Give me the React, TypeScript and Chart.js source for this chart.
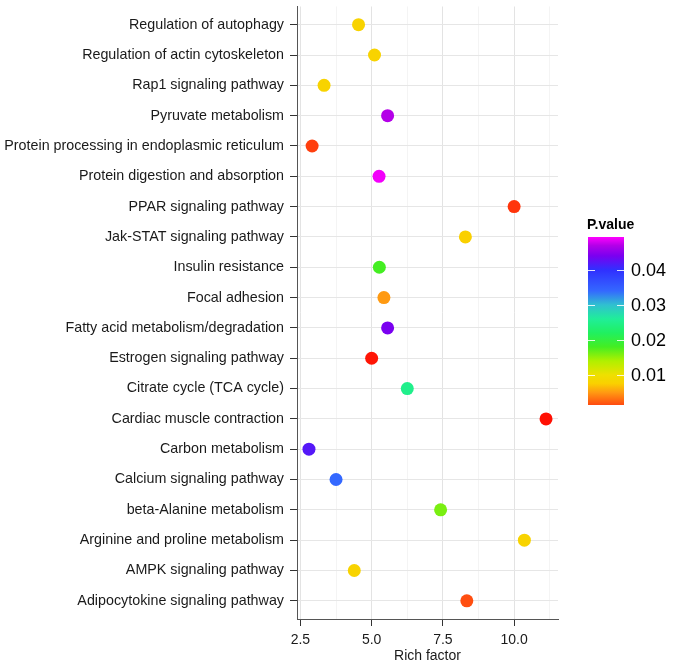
import React, { useEffect, useRef } from "react";
import { Chart, registerables } from "chart.js";

Chart.register(...registerables);

// Categories, bottom (index 0) to top
const categories: string[] = [
  "Adipocytokine signaling pathway",
  "AMPK signaling pathway",
  "Arginine and proline metabolism",
  "beta-Alanine metabolism",
  "Calcium signaling pathway",
  "Carbon metabolism",
  "Cardiac muscle contraction",
  "Citrate cycle (TCA cycle)",
  "Estrogen signaling pathway",
  "Fatty acid metabolism/degradation",
  "Focal adhesion",
  "Insulin resistance",
  "Jak-STAT signaling pathway",
  "PPAR signaling pathway",
  "Protein digestion and absorption",
  "Protein processing in endoplasmic reticulum",
  "Pyruvate metabolism",
  "Rap1 signaling pathway",
  "Regulation of actin cytoskeleton",
  "Regulation of autophagy",
];

const richFactor: number[] = [
  8.34, 4.39, 10.36, 7.42, 3.75, 2.8, 11.12, 6.25, 5.0, 5.56,
  5.43, 5.27, 8.29, 10.0, 5.26, 2.91, 5.56, 3.33, 5.1, 4.54,
];

const pValue: number[] = [
  0.0016, 0.008, 0.008, 0.016, 0.034, 0.042, 0.0003, 0.025, 0.0004, 0.044,
  0.005, 0.018, 0.0075, 0.001, 0.049, 0.0012, 0.047, 0.008, 0.008, 0.008,
];

const xTicks: number[] = [2.5, 3.75, 5.0, 6.25, 7.5, 8.75, 10.0, 11.25];
const xMajor: number[] = [2.5, 5.0, 7.5, 10.0];
const legendTicks: number[] = [0.01, 0.02, 0.03, 0.04];
const legendMin = 0.0014;
const legendMax = 0.0494;

// colour gradient stops (p-value -> colour)
const colorStops: [number, string][] = [
  [0.0, "#FF0000"],
  [0.0014, "#FF4A10"],
  [0.005, "#FF9A12"],
  [0.0075, "#FAD000"],
  [0.01, "#EEE000"],
  [0.014, "#B0F000"],
  [0.018, "#44EE22"],
  [0.022, "#20F060"],
  [0.026, "#20EE99"],
  [0.03, "#30C0D0"],
  [0.034, "#3468FF"],
  [0.04, "#3030FF"],
  [0.044, "#7A00F0"],
  [0.047, "#B400E8"],
  [0.0494, "#FF00FF"],
];

const FONT = "'Liberation Sans', Arial, Helvetica, sans-serif";

function hexToRgb(h: string): number[] {
  const v = parseInt(h.slice(1), 16);
  return [(v >> 16) & 255, (v >> 8) & 255, v & 255];
}

function colorFor(p: number): string {
  if (p <= colorStops[0][0]) return colorStops[0][1];
  for (let i = 1; i < colorStops.length; i++) {
    const [p1, c1] = colorStops[i];
    const [p0, c0] = colorStops[i - 1];
    if (p <= p1) {
      const t = (p - p0) / (p1 - p0);
      const a = hexToRgb(c0);
      const b = hexToRgb(c1);
      const r = a.map((v, k) => Math.round(v + (b[k] - v) * t));
      return `rgb(${r[0]},${r[1]},${r[2]})`;
    }
  }
  return colorStops[colorStops.length - 1][1];
}

const legendPlugin = {
  id: "pvalueLegend",
  afterDraw(chart: any) {
    const ctx = chart.ctx as CanvasRenderingContext2D;
    const barX = 588;
    const barW = 36;
    const barTop = 237;
    const barBottom = 405;
    const h = barBottom - barTop;
    const yOf = (p: number) => barBottom - ((p - legendMin) / (legendMax - legendMin)) * h;
    ctx.save();
    ctx.fillStyle = "#000";
    ctx.font = `bold 14px ${FONT}`;
    ctx.textAlign = "left";
    ctx.textBaseline = "alphabetic";
    ctx.fillText("P.value", 587, 229);

    const grad = ctx.createLinearGradient(0, barBottom, 0, barTop);
    colorStops.forEach(([p, c]) => {
      if (p >= legendMin && p <= legendMax) {
        grad.addColorStop((p - legendMin) / (legendMax - legendMin), c);
      }
    });
    ctx.fillStyle = grad;
    ctx.fillRect(barX, barTop, barW, h);

    ctx.strokeStyle = "rgba(255,255,255,0.85)";
    ctx.lineWidth = 1;
    ctx.font = `18px ${FONT}`;
    ctx.fillStyle = "#000";
    ctx.textBaseline = "middle";
    legendTicks.forEach((p) => {
      const y = Math.round(yOf(p)) + 0.5;
      ctx.beginPath();
      ctx.moveTo(barX, y);
      ctx.lineTo(barX + 7, y);
      ctx.moveTo(barX + barW - 7, y);
      ctx.lineTo(barX + barW, y);
      ctx.stroke();
      ctx.fillText(p.toFixed(2), 631, y + 1);
    });
    ctx.restore();
  },
};

export default function App() {
  const ref = useRef<HTMLCanvasElement>(null);

  useEffect(() => {
    document.body.style.margin = "0";
    const canvas = ref.current;
    if (!canvas) return;
    const points = categories.map((_, i) => ({ x: richFactor[i], y: i }));
    const chart = new Chart(canvas, {
      type: "scatter",
      data: {
        datasets: [
          {
            data: points,
            pointRadius: 6.5,
            pointHoverRadius: 6.5,
            pointBorderWidth: 0,
            pointBackgroundColor: pValue.map(colorFor),
            pointBorderColor: pValue.map(colorFor),
          },
        ],
      },
      options: {
        responsive: false,
        animation: false,
        events: [],
        layout: { padding: { left: 0, right: 117, top: 4, bottom: 0 } },
        plugins: {
          legend: { display: false },
          tooltip: { enabled: false },
        },
        scales: {
          x: {
            type: "linear",
            min: 2.38,
            max: 11.54,
            afterBuildTicks: (s: any) => {
              s.ticks = xTicks.map((v) => ({ value: v }));
            },
            afterFit: (s: any) => {
              s.height = 46;
              s.paddingLeft = 0;
              s.paddingRight = 0;
            },
            ticks: {
              autoSkip: false,
              maxRotation: 0,
              padding: 6,
              color: "#1a1a1a",
              font: { family: FONT, size: 14 },
              callback: (v: any) => (xMajor.includes(Number(v)) ? Number(v).toFixed(1) : ""),
            },
            grid: {
              color: (c: any) => (c.tick && xMajor.includes(c.tick.value) ? "#E3E3E3" : "#EFEFEF"),
              lineWidth: (c: any) => (c.tick && xMajor.includes(c.tick.value) ? 1 : 0.7),
              tickColor: (c: any) => (c.tick && xMajor.includes(c.tick.value) ? "#333" : "rgba(0,0,0,0)"),
              tickLength: 7,
              drawTicks: true,
            },
            border: { display: true, color: "#555", width: 1 },
            title: {
              display: true,
              text: "Rich factor",
              color: "#1a1a1a",
              font: { family: FONT, size: 14 },
              padding: { top: 0, bottom: 0 },
            },
          },
          y: {
            type: "linear",
            min: -0.6,
            max: categories.length - 0.4,
            afterBuildTicks: (s: any) => {
              s.ticks = categories.map((_, i) => ({ value: i }));
            },
            afterFit: (s: any) => {
              s.width = 297;
              s.paddingTop = 0;
              s.paddingBottom = 0;
            },
            ticks: {
              autoSkip: false,
              padding: 6,
              color: "#1a1a1a",
              font: { family: FONT, size: 14.3 },
              callback: (v: any) => categories[Number(v)] ?? "",
            },
            grid: {
              color: "#E6E6E6",
              lineWidth: 1,
              tickColor: "#333",
              tickLength: 7,
              drawTicks: true,
            },
            border: { display: true, color: "#555", width: 1 },
          },
        },
      },
      plugins: [legendPlugin],
    } as any);
    return () => chart.destroy();
  }, []);

  return (
    <div style={{ width: 675, height: 665 }}>
      <canvas ref={ref} width={675} height={665} />
    </div>
  );
}
